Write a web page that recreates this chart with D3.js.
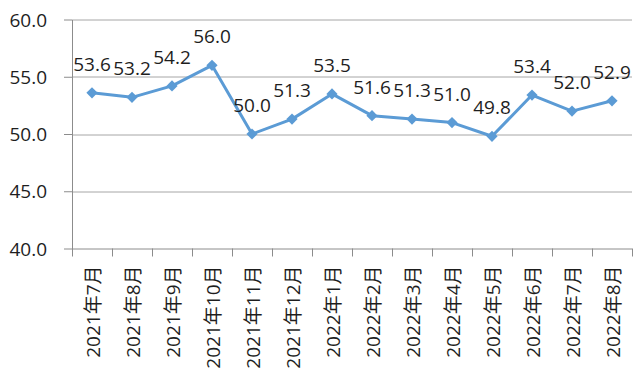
<!DOCTYPE html>
<meta charset="utf-8">
<style>
body { margin: 0; background: #fff; }
text { font-family: "Open Sans", "Noto Sans CJK SC", sans-serif; fill: #1e1e1e; }
.grid line { stroke: #a6a6a6; stroke-width: 1; }
.axis path, .axis line { stroke: #8c8c8c; }
.axis text { font-size: 19px; }
.lbl { font-size: 19px; }
</style>
<svg width="644" height="375"></svg>
<script src="https://d3js.org/d3.v7.min.js"></script>
<script>

var months = ["2021年7月","2021年8月","2021年9月","2021年10月","2021年11月","2021年12月","2022年1月","2022年2月","2022年3月","2022年4月","2022年5月","2022年6月","2022年7月","2022年8月"];
var values = [53.6, 53.2, 54.2, 56.0, 50.0, 51.3, 53.5, 51.6, 51.3, 51.0, 49.8, 53.4, 52.0, 52.9];
var yTicks = [40, 45, 50, 55, 60];

var svg = d3.select("svg"),
    margin = {top: 19.5, right: 12, bottom: 126.5, left: 72},
    width = +svg.attr("width") - margin.left - margin.right,
    height = +svg.attr("height") - margin.top - margin.bottom;

var x = d3.scaleBand().domain(months).range([0, width]),
    y = d3.scaleLinear().domain([40, 60]).range([height, 0]);

var g = svg.append("g")
    .attr("transform", "translate(" + margin.left + "," + margin.top + ")");

// gridlines
g.append("g")
    .attr("class", "grid")
  .selectAll("line")
  .data(yTicks.slice(1))
  .enter().append("line")
    .attr("x1", 0)
    .attr("x2", width)
    .attr("y1", function(d) { return Math.round(y(d)) + 0.5; })
    .attr("y2", function(d) { return Math.round(y(d)) + 0.5; });

// y axis
var yAxis = g.append("g")
    .attr("class", "axis axis--y")
    .call(d3.axisLeft(y).tickValues(yTicks).tickSize(8).tickSizeOuter(0).tickFormat(d3.format(".1f")));
yAxis.selectAll("text").attr("x", -25).attr("dy", "0.35em");

// x axis with ticks at band boundaries
var xAxis = g.append("g")
    .attr("class", "axis axis--x")
    .attr("transform", "translate(0," + height + ")");
xAxis.append("line")
    .attr("x1", 0).attr("x2", width)
    .attr("y1", 0.5).attr("y2", 0.5);
xAxis.selectAll(".tk")
  .data(months.concat(["end"]))
  .enter().append("line")
    .attr("class", "tk")
    .attr("x1", function(d, i) { return Math.round(i * x.bandwidth()) + 0.5; })
    .attr("x2", function(d, i) { return Math.round(i * x.bandwidth()) + 0.5; })
    .attr("y1", 0)
    .attr("y2", 8);
xAxis.selectAll("text")
  .data(months)
  .enter().append("text")
    .attr("transform", function(d) {
      return "translate(" + (x(d) + x.bandwidth() / 2 + 1) + ",17) rotate(-90)";
    })
    .attr("dy", "0.35em")
    .style("text-anchor", "end")
    .text(function(d) { return d; });

// line
var line = d3.line()
    .x(function(d, i) { return x(months[i]) + x.bandwidth() / 2; })
    .y(function(d) { return y(d); });

g.append("path")
    .datum(values)
    .attr("fill", "none")
    .attr("stroke", "#5b9bd5")
    .attr("stroke-width", 3)
    .attr("stroke-linejoin", "round")
    .attr("d", line);

g.selectAll(".pt")
  .data(values)
  .enter().append("path")
    .attr("class", "pt")
    .attr("d", d3.symbol().type(d3.symbolDiamond2).size(80))
    .attr("fill", "#5b9bd5")
    .attr("transform", function(d, i) {
      return "translate(" + (x(months[i]) + x.bandwidth() / 2) + "," + y(d) + ")";
    });

g.selectAll(".lbl")
  .data(values)
  .enter().append("text")
    .attr("class", "lbl")
    .attr("x", function(d, i) { return x(months[i]) + x.bandwidth() / 2; })
    .attr("y", function(d) { return y(d) - 22; })
    .style("text-anchor", "middle")
    .text(function(d) { return d.toFixed(1); });

</script>
